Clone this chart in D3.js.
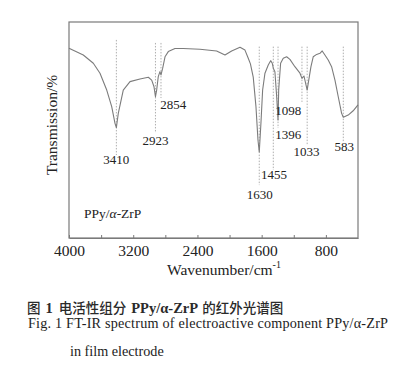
<!DOCTYPE html>
<html><head><meta charset="utf-8">
<script src="https://cdn.jsdelivr.net/npm/d3@7"></script>
<style>
html,body{margin:0;padding:0;background:#fff;}
svg{display:block;}
</style></head>
<body>
<svg id="chart" width="405" height="371"></svg>
<script>
// Spectrum: wavenumber (cm^-1) and transmission (%)
const wavenumber = [4000,3822,3697,3614,3530,3468,3427,3410,3386,3324,3240,3116,3012,2970,2941,2923,2908,2888,2867,2854,2833,2804,2763,2680,2577,2369,2161,2057,1974,1870,1808,1767,1740,1705,1671,1646,1630,1609,1588,1559,1518,1488,1468,1455,1435,1413,1396,1388,1364,1331,1289,1248,1186,1123,1098,1073,1033,1020,986,958,915,874,846,812,771,729,687,646,604,583,522,460,400];
const transmission = [87.8,84.7,80.9,76.3,68.5,60.8,53.1,51.1,57.7,68.5,72.4,73.6,74.4,73.1,70.0,65.4,68.5,74.7,77.0,75.5,78.6,83.9,86.3,87.7,87.7,87.4,86.6,84.7,86.6,88.3,87.0,83.2,80.6,74.5,60.8,45.4,39.8,53.2,68.5,76.3,80.1,82.1,80.9,78.6,77.0,65.4,54.6,68.5,80.9,83.2,83.9,82.7,79.3,76.3,73.9,75.0,68.5,71.6,79.3,83.9,85.0,85.5,86.6,84.7,82.4,79.3,73.1,65.4,57.7,55.9,56.9,58.9,61.6];

// Peak marker lines (wavenumber, top and bottom of dashed line in % units)
const peakWave   = [3410, 2923, 2854, 1630, 1455, 1396, 1098, 1033, 583];
const peakTop    = [91.7, 90.3, 90.3, 88.6, 88.6, 88.6, 88.6, 88.6, 88.6];
const peakBottom = [38.4, 48.6, 64.8, 24.5, 31.5, 50.9, 63.0, 43.0, 44.6];

// Peak labels (text, wavenumber position, transmission position)
const labelText = ["3410","2923","2854","1630","1455","1396","1098","1033","583"];
const labelWave = [3410, 2923, 2700, 1625, 1445, 1270, 1270, 1040, 570];
const labelT    = [35.5, 44.5, 61.0, 19.5, 28.5, 47.0, 58.5, 39.5, 41.5];

const xTicks = [4000, 3600, 3200, 2800, 2400, 2000, 1600, 1200, 800];
const xTickLabels = [4000, 3200, 2400, 1600, 800];

const svg = d3.select("#chart");
const L = 69, R = 358, T = 22, B = 238;
const x = d3.scaleLinear().domain([4000, 400]).range([L, R]);
const y = d3.scaleLinear().domain([0, 100]).range([B, T]);

const serif = "'Liberation Serif','Times New Roman',serif";
const cjk = "'Noto Sans CJK SC',sans-serif";
const axisCol = "#7a7a7a";

// dashed marker lines
svg.append("g").selectAll("line").data(peakWave).join("line")
  .attr("x1", d => x(d)).attr("x2", d => x(d))
  .attr("y1", (d,i) => y(peakTop[i])).attr("y2", (d,i) => y(peakBottom[i]))
  .attr("stroke", "#9a9a9a").attr("stroke-width", 0.8)
  .attr("stroke-dasharray", "1.5,1.5");

// spectrum
const pts = wavenumber.map((w,i) => [w, transmission[i]]);
svg.append("path").datum(pts)
  .attr("d", d3.line().x(d => x(d[0])).y(d => y(d[1])).curve(d3.curveLinear))
  .attr("fill", "none").attr("stroke", "#7c7c7c").attr("stroke-width", 1.1)
  .attr("stroke-linejoin", "round");

// frame
svg.append("rect").attr("x", L).attr("y", T).attr("width", R - L).attr("height", B - T)
  .attr("fill", "none").attr("stroke", axisCol).attr("stroke-width", 1.2);

// bottom axis ticks (inward)
const xAxis = d3.axisBottom(x).tickValues(xTicks).tickSizeInner(-3).tickSizeOuter(0)
  .tickFormat(d => xTickLabels.includes(d) ? d : "");
const gx = svg.append("g").attr("transform", `translate(0,${B})`).call(xAxis);
gx.select(".domain").attr("stroke", axisCol).attr("stroke-width", 1.2);
gx.selectAll(".tick line").attr("stroke", axisCol);
gx.selectAll(".tick text").attr("y", 7).attr("font-family", serif).attr("font-size", 15.5)
  .attr("fill", "#222");

// peak labels
svg.append("g").selectAll("text").data(labelText).join("text")
  .attr("x", (d,i) => x(labelWave[i])).attr("y", (d,i) => y(labelT[i]))
  .attr("text-anchor", "middle").attr("dominant-baseline", "middle")
  .attr("font-family", serif).attr("font-size", 13).attr("fill", "#222")
  .text(d => d);

// sample label
const s = svg.append("text").attr("x", 84).attr("y", 217.5)
  .attr("font-family", serif).attr("font-size", 13.5).attr("fill", "#222");
s.append("tspan").text("PPy/");
s.append("tspan").attr("font-style", "italic").text("α");
s.append("tspan").text("-ZrP");

// axis titles
const xt = svg.append("text").attr("x", 224).attr("y", 275)
  .attr("text-anchor", "middle").attr("font-family", serif).attr("font-size", 15.5).attr("fill", "#222");
xt.append("tspan").text("Wavenumber/cm");
xt.append("tspan").attr("font-size", 10).attr("dy", -7).text("-1");

svg.append("text").attr("transform", "translate(57,125) rotate(-90)")
  .attr("text-anchor", "middle").attr("font-family", serif).attr("font-size", 15.5).attr("fill", "#222")
  .text("Transmission/%");

// caption
const c1 = svg.append("text").attr("x", 27).attr("y", 312.5).attr("font-size", 13.5).attr("fill", "#2a2a2a")
  .attr("font-family", cjk).attr("font-weight", 500).attr("xml:space", "preserve");
c1.append("tspan").text("图");
c1.append("tspan").attr("dx", 5).attr("font-family", serif).attr("font-size", 14.5).attr("font-weight", "bold").text("1");
c1.append("tspan").attr("dx", 6).text("电活性组分");
c1.append("tspan").attr("dx", 5).attr("font-family", serif).attr("font-size", 14.5).attr("font-weight", "bold").text("PPy/α-ZrP");
c1.append("tspan").attr("dx", 4).text("的红外光谱图");

svg.append("text").attr("x", 28).attr("y", 328).attr("font-family", serif).attr("font-size", 14.2)
  .attr("fill", "#222").attr("textLength", 360).attr("lengthAdjust", "spacing")
  .text("Fig. 1  FT-IR spectrum of electroactive component PPy/α-ZrP");
svg.append("text").attr("x", 70).attr("y", 356).attr("font-family", serif).attr("font-size", 14.2)
  .attr("fill", "#222").text("in film electrode");
</script>
</body></html>
